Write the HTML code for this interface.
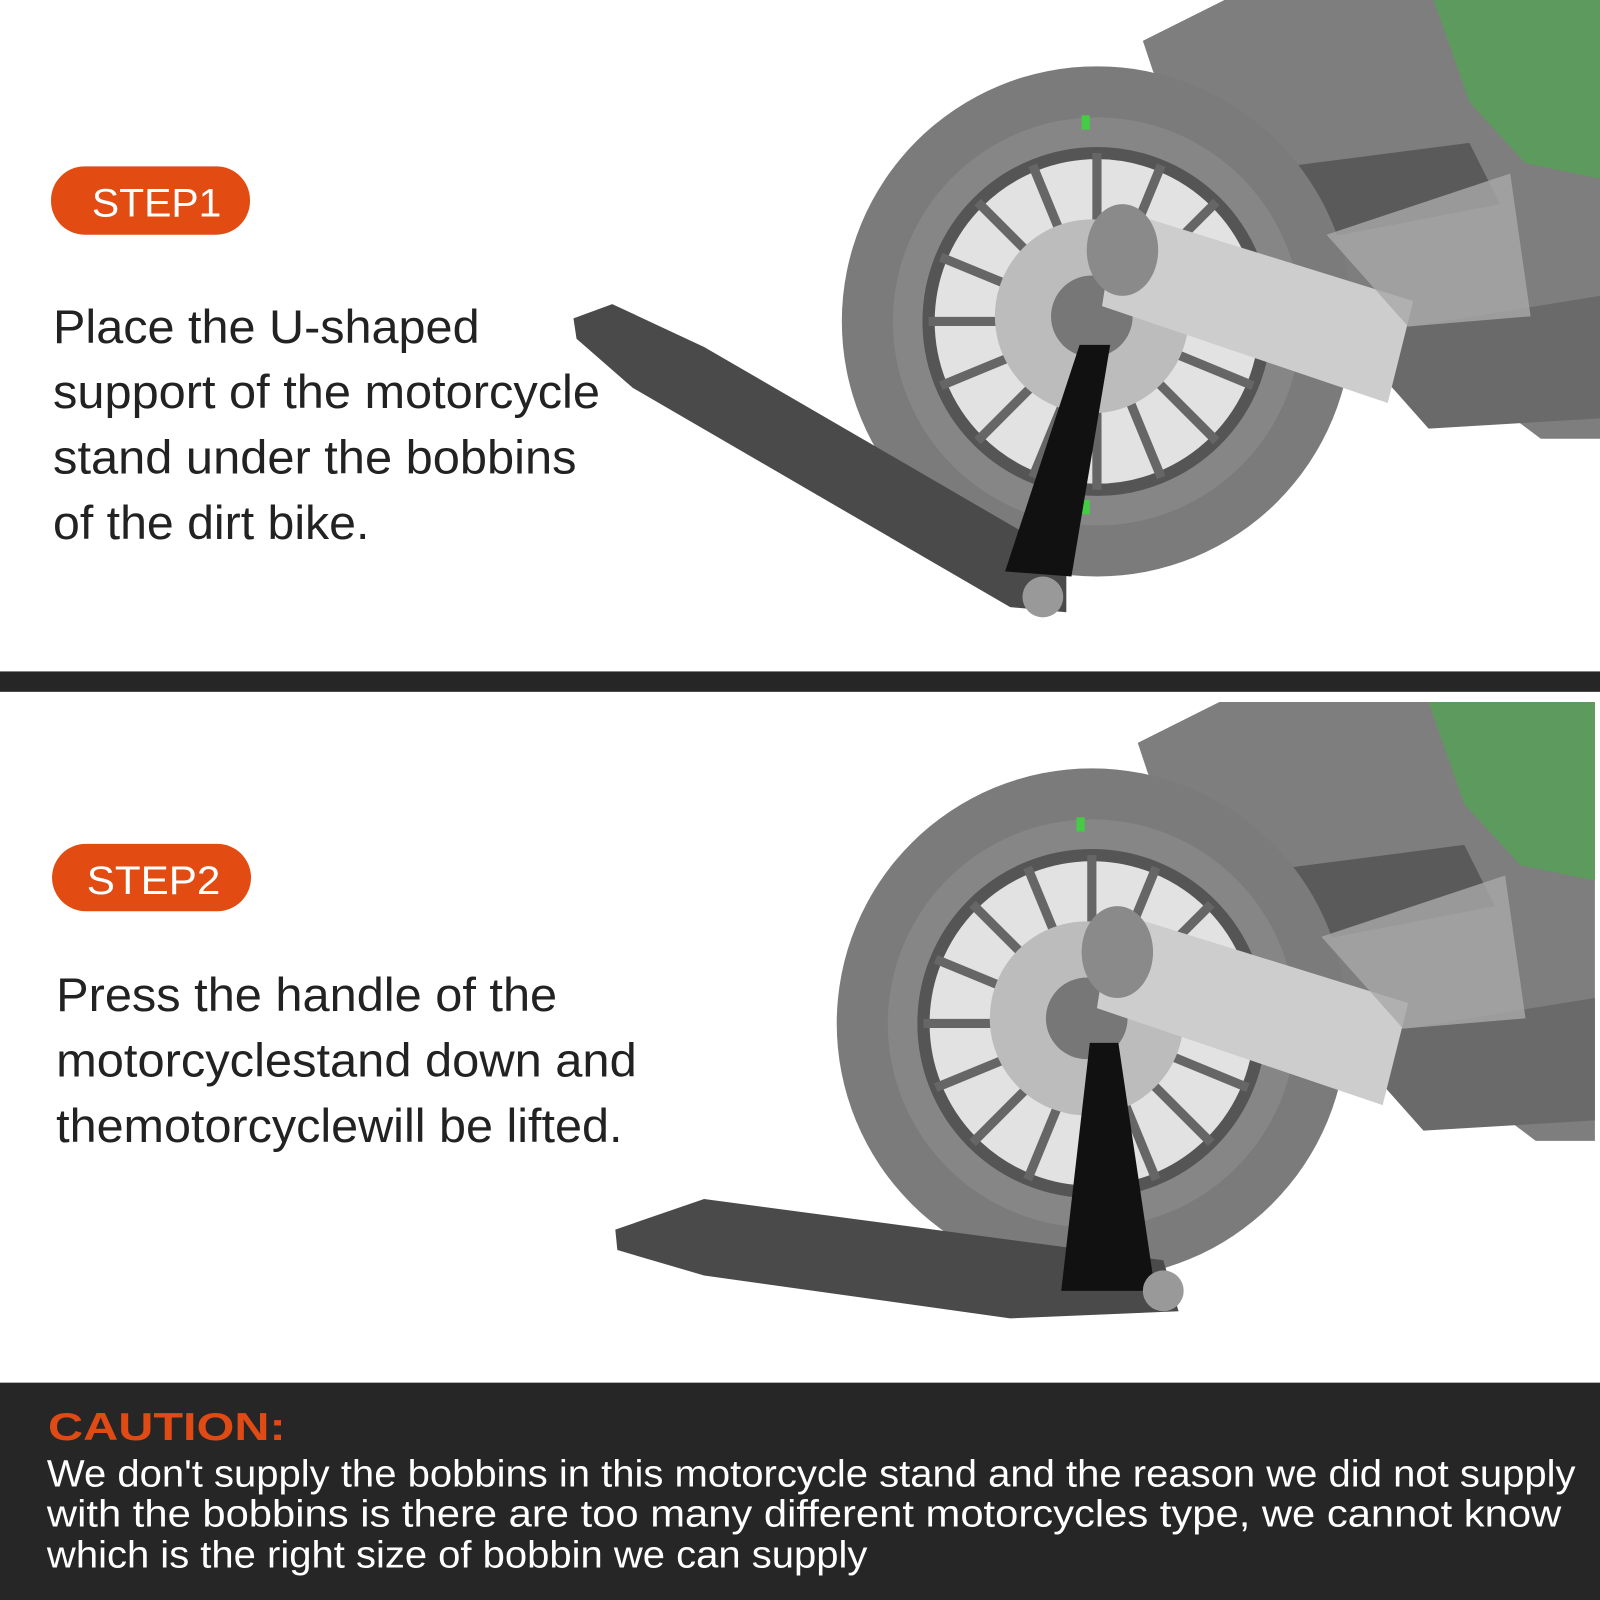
<!DOCTYPE html>
<html><head><meta charset="utf-8"><style>html,body{margin:0;padding:0;background:#fff}svg{display:block}</style></head>
<body>
<svg width="1600" height="1600" viewBox="0 0 1568 1568" xmlns="http://www.w3.org/2000/svg" font-family="Liberation Sans, sans-serif">
<defs>
<g id="bike">
  <polygon points="1120,40 1200,0 1568,0 1568,430 1510,430 1390,340 1260,250 1180,150 1130,70" fill="#7e7e7e"/>
  <polygon points="1405,0 1568,0 1568,175 1495,160 1440,100" fill="#5d9a5d"/>
  <polygon points="1130,180 1440,140 1470,200 1160,260" fill="#5a5a5a"/>
  <polygon points="1320,330 1568,290 1568,410 1400,420" fill="#6a6a6a"/>
  <circle cx="1075" cy="315" r="250" fill="#7b7b7b"/>
  <circle cx="1075" cy="315" r="200" fill="#868686"/>
  <circle cx="1075" cy="315" r="165" fill="#e2e2e2" stroke="#555" stroke-width="12"/>
  <g stroke="#666" stroke-width="9">
    <line x1="1075" y1="150" x2="1075" y2="480"/><line x1="910" y1="315" x2="1240" y2="315"/>
    <line x1="958" y1="198" x2="1192" y2="432"/><line x1="958" y1="432" x2="1192" y2="198"/>
    <line x1="1012" y1="162" x2="1138" y2="468"/><line x1="1012" y1="468" x2="1138" y2="162"/>
    <line x1="922" y1="252" x2="1228" y2="378"/><line x1="922" y1="378" x2="1228" y2="252"/>
  </g>
  <circle cx="1070" cy="310" r="95" fill="#bcbcbc"/>
  <circle cx="1070" cy="310" r="40" fill="#777"/>
  <rect x="1060" y="113" width="8" height="14" fill="#4c4"/>
  <rect x="1060" y="490" width="8" height="14" fill="#4c4"/>
  <polygon points="1095,205 1385,295 1360,395 1080,300" fill="#cdcdcd"/>
  <ellipse cx="1100" cy="245" rx="35" ry="45" fill="#8a8a8a"/>
  <polygon points="1300,230 1480,170 1500,310 1380,320" fill="#a9a9a9" opacity="0.8"/>
</g>
</defs>
<rect width="1568" height="1568" fill="#fff"/>
<svg x="0" y="0" width="1568" height="658" viewBox="0 0 1568 658"><use href="#bike"/></svg>
<svg x="0" y="678" width="1568" height="677" viewBox="0 -10 1568 677"><use href="#bike" transform="translate(-5,0)"/></svg>

<polygon points="562,312 600,298 690,340 1000,520 1045,550 1045,600 990,595 620,380 565,332" fill="#4a4a4a"/>
<polygon points="1058,338 1088,338 1050,565 985,560" fill="#111"/>
<circle cx="1022" cy="585" r="20" fill="#999"/>
<polygon points="603,1205 690,1175 1140,1235 1155,1285 990,1292 690,1250 605,1225" fill="#4a4a4a"/>
<polygon points="1068,1022 1096,1022 1132,1265 1040,1265" fill="#111"/>
<circle cx="1140" cy="1265" r="20" fill="#999"/>

<rect x="50" y="163" width="195" height="67" rx="33" fill="#e24c12"/>
<text x="90" y="212" font-size="39" fill="#fff" textLength="127" lengthAdjust="spacingAndGlyphs">STEP1</text>
<g font-size="46" fill="#222">
<text x="52" y="336" textLength="418" lengthAdjust="spacingAndGlyphs">Place the U-shaped</text>
<text x="52" y="400" textLength="536" lengthAdjust="spacingAndGlyphs">support of the motorcycle</text>
<text x="52" y="464" textLength="513" lengthAdjust="spacingAndGlyphs">stand under the bobbins</text>
<text x="52" y="528" textLength="310" lengthAdjust="spacingAndGlyphs">of the dirt bike.</text>
</g>
<rect x="0" y="658" width="1568" height="20" fill="#262626"/>
<rect x="51" y="827" width="195" height="66" rx="33" fill="#e24c12"/>
<text x="85" y="876" font-size="39" fill="#fff" textLength="131" lengthAdjust="spacingAndGlyphs">STEP2</text>
<g font-size="46" fill="#222">
<text x="55" y="991" textLength="491" lengthAdjust="spacingAndGlyphs">Press the handle of the</text>
<text x="55" y="1055" textLength="569" lengthAdjust="spacingAndGlyphs">motorcyclestand down and</text>
<text x="55" y="1119" textLength="555" lengthAdjust="spacingAndGlyphs">themotorcyclewill be lifted.</text>
</g>
<rect x="0" y="1355" width="1568" height="213" fill="#262626"/>
<text x="47" y="1411" font-size="38" font-weight="bold" fill="#e04a14" textLength="233" lengthAdjust="spacingAndGlyphs">CAUTION:</text>
<g font-size="37" fill="#fff">
<text x="46" y="1457" textLength="1498" lengthAdjust="spacingAndGlyphs">We don't supply the bobbins in this motorcycle stand and the reason we did not supply</text>
<text x="46" y="1496" textLength="1484" lengthAdjust="spacingAndGlyphs">with the bobbins is there are too many different motorcycles type, we cannot know</text>
<text x="46" y="1536" textLength="804" lengthAdjust="spacingAndGlyphs">which is the right size of bobbin we can supply</text>
</g>
</svg>
</body></html>
